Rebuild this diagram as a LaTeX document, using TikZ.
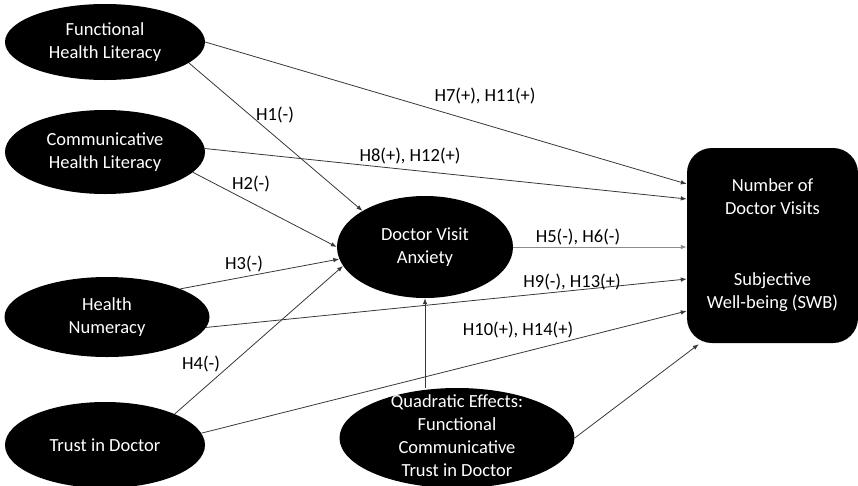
\documentclass[tikz,border=0pt]{standalone}
\usepackage{fontspec}
\setmainfont{Carlito}
\usetikzlibrary{shapes.geometric,arrows.meta}
\tikzset{
  ell/.style={ellipse, fill=black, draw=none, text=white, align=center, inner sep=0pt},
  outbox/.style={rectangle, rounded corners=25pt, fill=black, text=white, align=center, inner sep=0pt},
  wtxt/.style={text=white, align=center, inner sep=0pt},
  hyp/.style={text=black, inner sep=0pt},
  link/.style={draw=black!78, line width=0.8pt, -{Latex[length=6pt,width=4.5pt]}},
  lightlink/.style={link, draw=black!45}
}
\begin{document}
\begin{tikzpicture}[x=1pt,y=-1pt,font=\fontsize{18.5}{23}\selectfont]
\useasboundingbox (0,0) rectangle (858,485);
% nodes
\node[ell, minimum width=200pt, minimum height=76pt] (fhl) at (105,42) {Functional\\Health Literacy};
\node[ell, minimum width=200pt, minimum height=84pt] (chl) at (105,152) {Communicative\\Health Literacy};
\node[ell, minimum width=205pt, minimum height=80pt] (hn) at (107,317) {Health\\Numeracy};
\node[ell, minimum width=200pt, minimum height=86pt] (td) at (105,445) {Trust in Doctor};
\node[ell, minimum width=176pt, minimum height=102pt] (anx) at (425,247) {Doctor Visit\\Anxiety};
\node[ell, minimum width=235pt, minimum height=100pt] (quad) at (457,438) {};
\node[wtxt] (quadtxt) at (457,436) {Quadratic Effects:\\Functional\\Communicative\\Trust in Doctor};
\node[outbox, minimum width=171pt, minimum height=195pt] (box) at (772.5,245.5) {Number of\\Doctor Visits\\[48pt]Subjective\\Well-being (SWB)};
% connectors to anxiety
\draw[link] (fhl.-14) -- (anx.150);
\draw[link] (chl.-13) -- (anx.180);
\draw[link] (hn.21) -- (anx.188.5);
\draw[link] (td.24) -- (anx.193.5);
\draw[link] (anx.south |- quad.north) -- (anx.south);
% connectors to outcome box
\draw[link] (fhl.0) -- ([yshift=61.5pt]box.west);
\draw[link] (chl.2) -- ([yshift=46.5pt]box.west);
\draw[lightlink] (anx.0) -- ([yshift=-1.5pt]box.west);
\draw[link] (hn.-6.8) -- ([yshift=-33.5pt]box.west);
\draw[link] (td.7) -- ([yshift=-65.5pt]box.west);
\draw[link] (quad.0) -- ([xshift=12pt,yshift=-1pt]box.south west);
% labels
\node[hyp] (h1) at (275,115) {H1(-)};
\node[hyp] (h2) at (251,184) {H2(-)};
\node[hyp] (h3) at (244,264) {H3(-)};
\node[hyp] (h4) at (201,364) {H4(-)};
\node[hyp] (h7) at (485,96) {H7(+), H11(+)};
\node[hyp] (h8) at (410,156) {H8(+), H12(+)};
\node[hyp] (h5) at (578,237) {H5(-), H6(-)};
\node[hyp] (h9) at (572,282) {H9(-), H13(+)};
\node[hyp] (h10) at (518,330) {H10(+), H14(+)};
\end{tikzpicture}
\end{document}
